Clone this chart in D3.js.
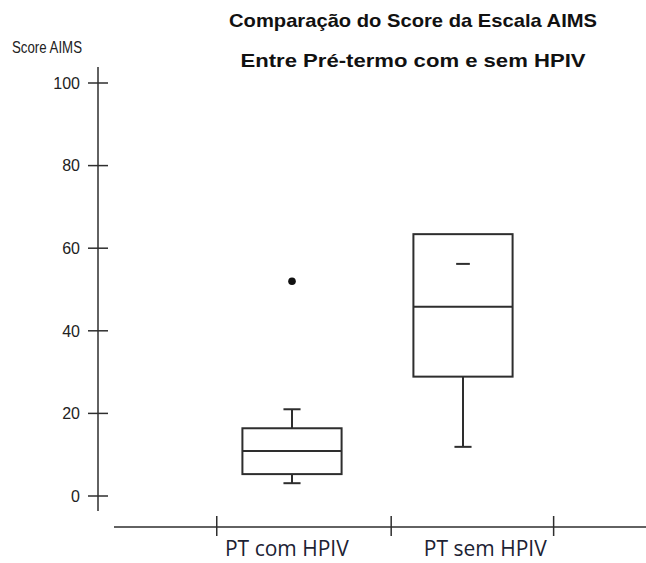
<!DOCTYPE html>
<html>
<head>
<meta charset="utf-8">
<script src="https://cdn.jsdelivr.net/npm/d3@7"></script>
<style>
  html, body { margin: 0; padding: 0; background: #fff; }
  svg { display: block; }
</style>
</head>
<body>
<script>
// ---- data ----
const categories = ["PT com HPIV", "PT sem HPIV"];
const whiskerLow = [3.1, 11.9];
const q1 = [5.3, 28.9];
const median = [10.9, 45.8];
const q3 = [16.4, 63.4];
const whiskerHigh = [21.0, 63.4];
const outliers = [[52.0], []];
const dashMarks = [null, 56.2];
const yTicks = [0, 20, 40, 60, 80, 100];
const titleLines = ["Comparação do Score da Escala AIMS", "Entre Pré-termo com e sem HPIV"];
const yTitle = "Score AIMS";

// ---- layout ----
const W = 646, H = 563;
const ink = "#2e2e2e";
const svg = d3.select("body").append("svg").attr("width", W).attr("height", H);

const y = d3.scaleLinear().domain([0, 100]).range([496, 83]);
// category position scale (box centres at 0 and 1)
const x = d3.scaleLinear().domain([0, 1]).range([292, 463]);
const boundaries = [-0.44, 0.58, 1.53];      // x-axis tick positions in category units
const labelPos = [-0.03, 1.13];              // label centres in category units
const boxHalf = 0.29, capHalf = 0.05;
const axisX = 98, axisY = 527;

// titles
svg.append("text").attr("x", 413).attr("y", 27).attr("text-anchor", "middle")
  .attr("font-family", "Liberation Sans, Arial, sans-serif").attr("font-weight", "bold")
  .attr("font-size", 19).attr("fill", "#111")
  .attr("textLength", 368).attr("lengthAdjust", "spacingAndGlyphs")
  .text(titleLines[0]);
svg.append("text").attr("x", 413).attr("y", 67).attr("text-anchor", "middle")
  .attr("font-family", "Liberation Sans, Arial, sans-serif").attr("font-weight", "bold")
  .attr("font-size", 19).attr("fill", "#111")
  .attr("textLength", 345).attr("lengthAdjust", "spacingAndGlyphs")
  .text(titleLines[1]);

// y axis
const gy = svg.append("g").attr("transform", `translate(${axisX},0)`);
gy.append("line").attr("y1", y.range()[1] - 16).attr("y2", y.range()[0] + 15)
  .attr("stroke", ink).attr("stroke-width", 1.5);
const yt = gy.selectAll("g.t").data(yTicks).join("g").attr("class", "t")
  .attr("transform", d => `translate(0,${y(d)})`);
yt.append("line").attr("x1", -10).attr("x2", 10).attr("stroke", ink).attr("stroke-width", 1.5);
yt.append("text").attr("x", -18).attr("dy", "0.36em").attr("text-anchor", "end")
  .attr("font-family", "Liberation Sans, Arial, sans-serif").attr("font-size", 16)
  .attr("fill", "#222").text(d => d);
svg.append("text").attr("x", 12).attr("y", 53)
  .attr("font-family", "Liberation Sans, Arial, sans-serif").attr("font-size", 16)
  .attr("fill", "#222").attr("textLength", 70).attr("lengthAdjust", "spacingAndGlyphs")
  .text(yTitle);

// x axis
const gx = svg.append("g");
gx.append("line").attr("x1", 114).attr("x2", W).attr("y1", axisY).attr("y2", axisY)
  .attr("stroke", ink).attr("stroke-width", 1.5);
gx.selectAll("line.tk").data(boundaries).join("line").attr("class", "tk")
  .attr("x1", d => x(d)).attr("x2", d => x(d)).attr("y1", axisY - 11).attr("y2", axisY + 9)
  .attr("stroke", ink).attr("stroke-width", 1.5);
gx.selectAll("text").data(categories).join("text")
  .attr("x", (d, i) => x(labelPos[i])).attr("y", 556).attr("text-anchor", "middle")
  .attr("font-family", "Open Sans, sans-serif").attr("font-size", 21)
  .attr("fill", "#1c2233").text(d => d);

// boxes
const g = svg.append("g").attr("stroke", ink).attr("stroke-width", 2).attr("fill", "none");
categories.forEach((c, i) => {
  const cx = x(i), bl = x(i - boxHalf), br = x(i + boxHalf);
  const cl = x(i - capHalf), cr = x(i + capHalf);
  // whiskers
  if (whiskerHigh[i] > q3[i]) {
    g.append("line").attr("x1", cx).attr("x2", cx).attr("y1", y(q3[i])).attr("y2", y(whiskerHigh[i]));
    g.append("line").attr("x1", cl).attr("x2", cr).attr("y1", y(whiskerHigh[i])).attr("y2", y(whiskerHigh[i]));
  }
  if (whiskerLow[i] < q1[i]) {
    g.append("line").attr("x1", cx).attr("x2", cx).attr("y1", y(q1[i])).attr("y2", y(whiskerLow[i]));
    g.append("line").attr("x1", cl).attr("x2", cr).attr("y1", y(whiskerLow[i])).attr("y2", y(whiskerLow[i]));
  }
  g.append("rect").attr("x", bl).attr("y", y(q3[i])).attr("width", br - bl)
    .attr("height", y(q1[i]) - y(q3[i])).attr("fill", "#fff");
  g.append("line").attr("x1", bl).attr("x2", br).attr("y1", y(median[i])).attr("y2", y(median[i]));
  if (dashMarks[i] != null) {
    g.append("line").attr("x1", x(i - 0.04)).attr("x2", x(i + 0.04))
      .attr("y1", y(dashMarks[i])).attr("y2", y(dashMarks[i]));
  }
  outliers[i].forEach(v => {
    svg.append("circle").attr("cx", cx).attr("cy", y(v)).attr("r", 3.8).attr("fill", "#111");
  });
});
</script>
</body>
</html>
